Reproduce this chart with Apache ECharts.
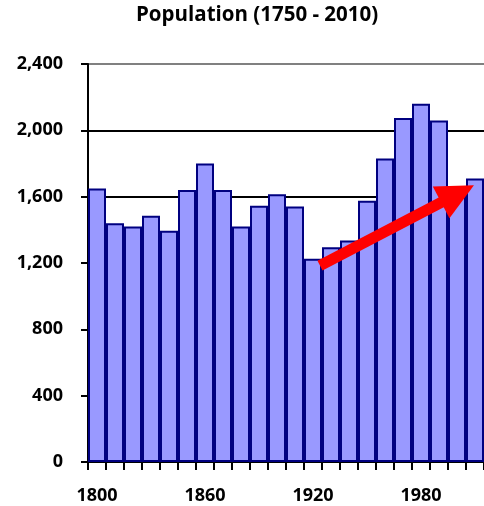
<!DOCTYPE html>
<html>
<head>
<meta charset="utf-8">
<script src="https://cdn.jsdelivr.net/npm/echarts@6/dist/echarts.min.js"></script>
<style>html,body{margin:0;padding:0;background:#fff;}#c{width:484px;height:506px;}</style>
</head>
<body>
<div id="c"></div>
<script>
var years = ['1800','1810','1820','1830','1840','1850','1860','1870','1880','1890','1900','1910','1920','1930','1940','1950','1960','1970','1980','1990','2000','2010'];
var population = [1650,1440,1420,1485,1395,1640,1800,1640,1420,1545,1615,1540,1225,1295,1335,1575,1830,2075,2160,2060,1665,1710];
var yTicks = [0,400,800,1200,1600,2000,2400];
// trend arrow annotation, in (year, population) data space
var trendStart = [1923.9, 1184];
var trendEnd = [2000.3, 1617];

var FONT = 'Open Sans';
var chart = echarts.init(document.getElementById('c'), null, {renderer:'canvas'});
chart.setOption({
  animation:false,
  backgroundColor:'#fff',
  title:{
    text:'Population (1750 - 2010)',
    left:136, top:5, padding:0,
    textStyle:{fontFamily:FONT, fontWeight:'bold', fontSize:20.5, color:'#000'}
  },
  grid:{left:88, top:64, width:398.4, bottom:44, containLabel:false},
  xAxis:[{
    type:'category', data:years, boundaryGap:true,
    axisLine:{lineStyle:{color:'#000', width:2}},
    axisTick:{show:true, interval:0, length:8, lineStyle:{color:'#000', width:2}},
    axisLabel:{interval:5, margin:25, fontFamily:FONT, fontWeight:'bold', fontSize:18, color:'#000'},
    splitLine:{show:false}
  },{
    type:'value', min:1795, max:2015, show:false
  }],
  yAxis:{
    type:'value', min:yTicks[0], max:yTicks[yTicks.length-1], interval:400,
    axisLine:{show:true, lineStyle:{color:'#000', width:2}},
    axisTick:{show:true, length:7, lineStyle:{color:'#000', width:2}},
    axisLabel:{margin:25, fontFamily:FONT, fontWeight:'bold', fontSize:18, color:'#000'},
    splitLine:{show:true, lineStyle:{width:2, color:['#000','#000','#000','#000','#000','#000','#808080']}}
  },
  series:[{
    type:'bar', data:population, barCategoryGap:'0%',
    itemStyle:{color:'#9999FF', borderColor:'#000080', borderWidth:2},
    emphasis:{disabled:true}
  },{
    type:'line', xAxisIndex:1, yAxisIndex:0, data:[], silent:true,
    markLine:{
      silent:true, animation:false,
      symbol:['none','triangle'], symbolSize:[36,37],
      label:{show:false},
      lineStyle:{color:'#FF0000', width:11, type:'solid', cap:'butt'},
      data:[[{coord:trendStart},{coord:trendEnd}]]
    }
  }]
});
</script>
</body>
</html>
